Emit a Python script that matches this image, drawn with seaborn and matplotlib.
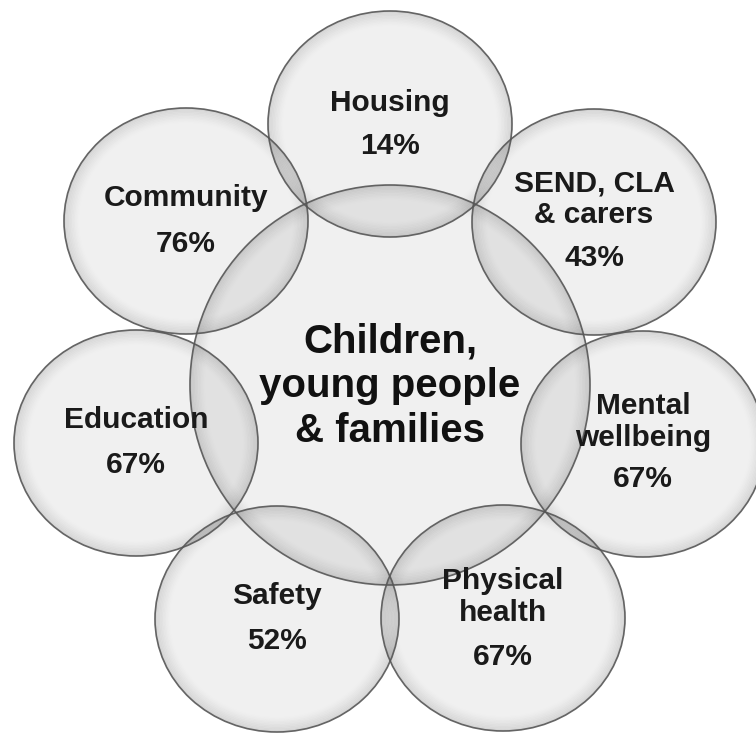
import matplotlib
matplotlib.use("Agg")
import matplotlib.pyplot as plt
from matplotlib.patches import Ellipse
import seaborn as sns

# ---- data ----
categories = ["Housing", "SEND, CLA\n& carers", "Mental\nwellbeing", "Physical\nhealth",
              "Safety", "Education", "Community"]
percentages = [14, 43, 67, 67, 52, 67, 76]
centre_label = "Children,\nyoung people\n& families"

# ---- layout (pixel coordinates, y downwards) ----
centres_x = [390, 594, 643, 503, 277, 136, 186]
centres_y = [124, 222, 444, 618, 619, 443, 221]
label_y = [103, 199, 422, 597, 596, 420, 198]
pct_y = [146, 258, 479, 657, 641, 465, 244]
small_rx, small_ry = 122, 113
centre_xy = (390, 385)
centre_r = 200

sns.set_theme(style="white")
plt.rcParams["font.family"] = ["Liberation Sans", "DejaVu Sans"]

W, H = 756, 733
fig = plt.figure(figsize=(W / 100, H / 100), dpi=100)
ax = fig.add_axes([0, 0, 1, 1])
ax.set_xlim(0, W)
ax.set_ylim(H, 0)
ax.set_axis_off()
sns.despine(ax=ax, left=True, bottom=True)

PX = 0.72  # points per pixel


def bubble(cx, cy, rx, ry):
    # translucent body
    ax.add_patch(Ellipse((cx, cy), 2 * rx, 2 * ry, facecolor="black",
                         alpha=0.06, edgecolor="none", zorder=1))
    # inner rim shading (darker near the edge)
    n = 10
    for k in range(n):
        d = 1.0 + k * 1.5
        a = 0.10 * (1 - k / n) ** 1.3
        ax.add_patch(Ellipse((cx, cy), 2 * (rx - d), 2 * (ry - d), fill=False,
                             edgecolor="black", alpha=a, lw=1.6 * PX, zorder=2))
    # outline
    ax.add_patch(Ellipse((cx, cy), 2 * rx, 2 * ry, fill=False,
                         edgecolor="#555555", lw=1.7 * PX, alpha=0.9, zorder=3))


bubble(centre_xy[0], centre_xy[1], centre_r, centre_r)
for cx, cy in zip(centres_x, centres_y):
    bubble(cx, cy, small_rx, small_ry)

for cat, pct, cx, ly, py in zip(categories, percentages, centres_x, label_y, pct_y):
    ax.text(cx, ly, cat, ha="center", va="center", fontsize=21.5, fontweight="bold",
            color="#1a1a1a", linespacing=1.14, zorder=5)
    ax.text(cx, py, f"{pct}%", ha="center", va="center", fontsize=21.5,
            fontweight="bold", color="#1a1a1a", zorder=5)

ax.text(centre_xy[0], 386, centre_label, ha="center", va="center", fontsize=29,
        fontweight="bold", color="#111111", linespacing=1.22, zorder=5)

fig.savefig("out.png", dpi=100, facecolor="white")
